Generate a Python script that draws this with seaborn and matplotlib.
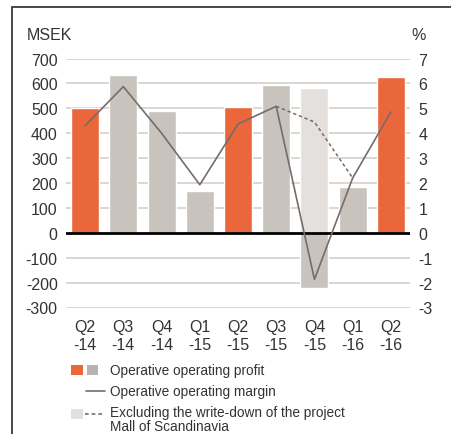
import matplotlib
matplotlib.use("Agg")
import matplotlib.pyplot as plt
import seaborn as sns
import numpy as np
import pandas as pd
from matplotlib.patches import Rectangle
from matplotlib.lines import Line2D
from matplotlib.legend_handler import HandlerBase

quarters = ["Q2\n-14", "Q3\n-14", "Q4\n-14", "Q1\n-15", "Q2\n-15", "Q3\n-15", "Q4\n-15", "Q1\n-16", "Q2\n-16"]
profit = [500, 633, 488, 169, 504, 593, -223, 184, 625]
excl_quarter = ["Q4\n-15"]
excl_profit = [581]
margin = [4.3, 5.87, 4.0, 1.93, 4.37, 5.08, -1.87, 2.2, 4.85]
excl_quarters_line = ["Q3\n-15", "Q4\n-15", "Q1\n-16"]
excl_margin = [5.08, 4.45, 2.2]
left_ticks = [-300, -200, -100, 0, 100, 200, 300, 400, 500, 600, 700]
right_ticks = [-3, -2, -1, 0, 1, 2, 3, 4, 5, 6, 7]
legend_labels = ["Operative operating profit", "Operative operating margin",
                 "Excluding the write-down of the project\nMall of Scandinavia"]

ORANGE = "#E9673A"
GRAY = "#C8C3BD"
GRAY_KEY = "#B8B3AE"
LIGHT = "#E3E0DD"
LINEC = "#776B6C"
GRID = "#D8D3CE"
TXT = "#333333"
DASH = (0, (2.2, 1.8))
bar_colors = [ORANGE, GRAY, GRAY, GRAY, ORANGE, GRAY, GRAY, GRAY, ORANGE]

sns.set_style("white")
plt.rcParams["font.family"] = ["Liberation Sans", "DejaVu Sans"]

fig = plt.figure(figsize=(4.52, 4.35), dpi=100)
ax = fig.add_axes([66/452, 1-308.5/435, (410-66)/452, (308.5-59.5)/435])

df = pd.DataFrame({"q": quarters, "v": profit})
dfx = pd.DataFrame({"q": excl_quarter, "v": excl_profit})
sns.barplot(data=dfx, x="q", y="v", order=quarters, color=LIGHT, width=0.73,
            ax=ax, saturation=1, zorder=2)
sns.barplot(data=df, x="q", y="v", order=quarters, hue="q", palette=bar_colors,
            width=0.73, ax=ax, saturation=1, legend=False, zorder=3)

ax.set_xlim(-0.5, len(quarters) - 0.5)
ax.set_ylim(-300, 700)
ax.set_yticks(left_ticks)
ax.set_yticklabels([str(t) for t in left_ticks])
for t in left_ticks:
    if t != 0:
        ax.axhline(t, color=GRID, lw=1.3, zorder=1)
ax.axhline(0, color="black", lw=2.0, zorder=5)
for s in ax.spines.values():
    s.set_visible(False)
ax.tick_params(axis="y", length=0, labelsize=11.5, labelcolor=TXT, pad=6)
ax.tick_params(axis="x", length=0, labelsize=11.5, labelcolor=TXT, pad=8)
for lab in ax.get_xticklabels():
    lab.set_linespacing(1.3)
ax.set_xlabel("")
ax.set_ylabel("")

ax2 = ax.twinx()
idx = np.arange(len(quarters))
sns.lineplot(x=idx, y=margin, ax=ax2, color=LINEC, lw=1.2, zorder=6)
excl_idx = [quarters.index(q) for q in excl_quarters_line]
sns.lineplot(x=excl_idx, y=excl_margin, ax=ax2, color=LINEC, lw=1.1,
             linestyle=DASH, zorder=6)
ax2.set_ylim(-3, 7)
ax2.set_yticks(right_ticks)
ax2.set_yticklabels([str(t) for t in right_ticks])
ax2.tick_params(axis="y", length=0, labelsize=11.5, labelcolor=TXT, pad=6)
for s in ax2.spines.values():
    s.set_visible(False)
ax2.set_xlim(-0.5, len(quarters) - 0.5)

fig.text(27/452, 1-36/435, "MSEK", fontsize=11.5, color=TXT, va="center", ha="left")
fig.text(426/452, 1-36/435, "%", fontsize=11.5, color=TXT, va="center", ha="right")


class KeySpec:
    def __init__(self, parts, yshift=0.0):
        self.parts = parts  # list of (kind, f0, f1, color)
        self.yshift = yshift


class KeyHandler(HandlerBase):
    def create_artists(self, legend, orig_handle, xdescent, ydescent, width,
                       height, fontsize, trans):
        arts = []
        ym = -ydescent + height / 2 + orig_handle.yshift * fontsize
        for kind, f0, f1, color in orig_handle.parts:
            x0 = -xdescent + f0 * width
            x1 = -xdescent + f1 * width
            if kind == "rect":
                h = 0.7 * fontsize
                r = Rectangle((x0, ym - h / 2), x1 - x0, h, facecolor=color,
                              edgecolor="none", transform=trans)
                arts.append(r)
            else:
                ls = "-" if kind == "line" else DASH
                ln = Line2D([x0, x1], [ym, ym], color=color, lw=1.2,
                            linestyle=ls, transform=trans)
                arts.append(ln)
        return arts


k1 = KeySpec([("rect", 0.0, 0.33, ORANGE), ("rect", 0.45, 0.78, GRAY_KEY)])
k2 = KeySpec([("line", 0.42, 1.0, LINEC)])
k3 = KeySpec([("rect", 0.0, 0.33, LIGHT), ("dash", 0.40, 1.0, LINEC)], yshift=0.42)
leg = fig.legend([k1, k2, k3], legend_labels,
                 handler_map={KeySpec: KeyHandler()},
                 loc="upper left", bbox_to_anchor=(71.5/452, 1-364.5/435), frameon=False,
                 fontsize=9.8, handlelength=2.45, handleheight=0.8, handletextpad=0.35,
                 labelspacing=0.5, borderpad=0, borderaxespad=0, labelcolor=TXT)
for t in leg.get_texts():
    t.set_linespacing(0.95)

fig.add_artist(Rectangle((12/452, -0.5), 2.0, 1.5 - 8/435, transform=fig.transFigure,
                         fill=False, edgecolor="#3A3A3A", lw=1.3))

fig.savefig("out.png", dpi=100)
